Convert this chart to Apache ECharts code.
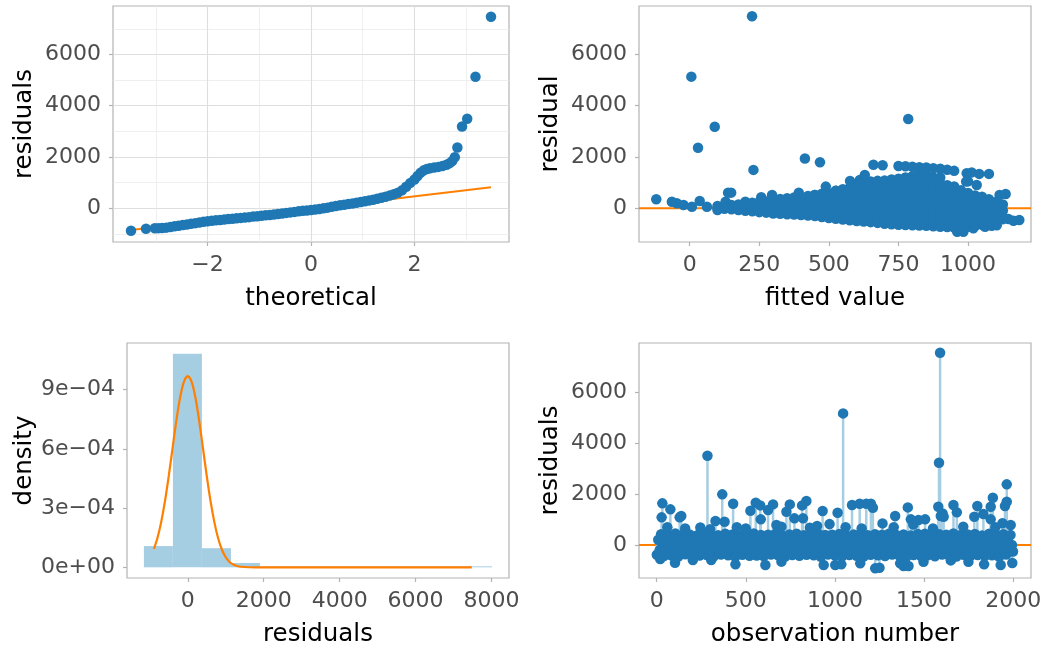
<!DOCTYPE html>
<html lang="en">
<head>
<meta charset="UTF-8">
<title>residual diagnostics</title>
<script src="https://cdn.jsdelivr.net/npm/echarts@6/dist/echarts.min.js"></script>
<style>
  html, body { margin: 0; padding: 0; background: #fff; }
  #chart { width: 1049px; height: 649px; }
</style>
</head>
<body>
<div id="chart"></div>
<script>
// ---- data ----
// panel 1: normal QQ (theoretical quantile, residual)
var qqPoints = [
  [-3.48,-876],[-3.19,-798],[-3.02,-782],[-2.95,-775],[-2.88,-770],[-2.80,-755],[-2.72,-730],
  [-2.64,-705],[-2.56,-680],[-2.48,-655],[-2.40,-630],[-2.32,-605],[-2.24,-580],[-2.16,-555],
  [-2.08,-530],[-2.00,-505],[-1.92,-490],[-1.84,-470],[-1.76,-455],[-1.68,-440],[-1.60,-420],
  [-1.52,-405],[-1.44,-390],[-1.36,-375],[-1.28,-360],[-1.20,-345],[-1.12,-325],[-1.04,-310],
  [-0.96,-295],[-0.88,-275],[-0.80,-260],[-0.72,-240],[-0.64,-220],[-0.56,-200],[-0.48,-180],
  [-0.40,-160],[-0.32,-140],[-0.24,-120],[-0.16,-100],[-0.08,-85],[0.00,-66],[0.08,-45],
  [0.16,-25],[0.24,0],[0.32,25],[0.40,60],[0.48,90],[0.56,115],[0.64,140],[0.72,165],
  [0.80,190],[0.88,215],[0.96,245],[1.04,270],[1.12,300],[1.20,335],[1.28,370],[1.36,410],
  [1.44,450],[1.52,495],[1.60,545],[1.68,610],[1.76,700],[1.84,840],[1.92,990],[2.00,1125],
  [2.06,1260],[2.12,1390],[2.18,1480],[2.24,1530],[2.30,1560],[2.38,1590],[2.46,1615],
  [2.54,1650],[2.62,1700],[2.68,1760],[2.73,1840],[2.78,1990],[2.83,2370],[2.92,3190],
  [3.02,3490],[3.18,5130],[3.48,7470]
];
var qqLine = [[-3.48,-850],[3.48,820]];

// panel 2: residual vs fitted value, columns of points [fitted, [residuals]]
var fitCols = [
  [100,[10,90]],[125,[-20,110]],[150,[-40,130]],[175,[-70,150]],
  [200,[-100,40,180]],[225,[-120,60,220]],[250,[-150,50,250]],[275,[-170,40,260]],
  [300,[-200,10,210,330]],[325,[-210,0,200,360]],[350,[-230,-10,200,390]],[375,[-245,-20,190,420]],
  [400,[-260,-40,180,420]],[425,[-280,-50,170,400,480]],[450,[-300,-70,160,380,520]],
  [475,[-340,-100,140,380,570]],[500,[-380,-140,100,340,580]],[525,[-410,-170,70,310,550,680]],
  [550,[-440,-200,40,280,520,740]],[575,[-470,-230,10,250,490,730,800]],
  [600,[-500,-260,-20,220,460,700,880]],[625,[-520,-280,-40,200,440,680,920]],
  [650,[-540,-300,-60,180,420,660,900,1040]],[675,[-570,-330,-90,150,390,630,870,1070]],
  [700,[-600,-360,-120,120,360,600,840,1080]],[725,[-620,-380,-140,100,340,580,820,1060,1120]],
  [750,[-640,-400,-160,80,320,560,800,1040,1150,1650]],
  [775,[-650,-410,-170,70,310,550,790,1030,1200,1640]],
  [800,[-660,-420,-180,60,300,540,780,1020,1250,1620]],
  [825,[-670,-430,-190,50,290,530,770,1010,1250,1480,1600]],
  [850,[-680,-440,-200,40,280,520,760,1000,1240,1300,1590]],
  [875,[-700,-460,-220,20,260,500,740,980,1200,1560]],
  [900,[-720,-480,-240,0,240,480,720,960,1200,1540]],
  [925,[-730,-490,-250,-10,230,470,710,900,1500]],
  [950,[-750,-510,-270,-30,210,450,690,850,1460]],
  [975,[-760,-520,-280,-40,200,440,700]],
  [1000,[-720,-480,-240,0,240,480,600,1050]],
  [1025,[-680,-440,-200,40,280,500]],[1050,[-640,-400,-160,80,320,450]],
  [1075,[-560,-320,-80,160,350]],[1100,[-480,-240,0,250]],[1125,[-330,-90,150]]
];
var fitOutliers = [
  [-120,352],[-64,258],[-46,195],[-22,129],[8,63],[36,285],[62,63],[100,-66],[129,258],
  [6,5134],[224,7490],[90,3179],[30,2358],[229,1497],[138,610],[149,610],[200,258],
  [257,430],[296,520],[392,610],[449,520],[489,845],[525,688],[414,1940],[468,1798],
  [576,1067],[611,1107],[629,1302],[660,1700],[693,1680],[785,3480],
  [995,1368],[1013,1400],[1040,1342],[1075,1342],[993,1040],[1031,911],[1113,520],[1135,559],
  [961,-915],[983,-915],[1019,-782],[1061,-719],[1085,-680],[1103,-665],[1124,-430],
  [1145,-418],[1163,-485],[1184,-457]
];
var fitZero = [[-182,0],[1226,0]];

// panel 3: histogram bins [from, to, density] and normal density curve
var histBins = [
  [-1155,-391,1.076e-4],[-391,373,1.082e-3],[373,1137,9.7e-5],[1137,1901,2.2e-5],
  [1901,2665,7e-7],[2665,3429,7e-7],[3429,4193,7e-7],[4193,4957,7e-7],
  [4957,5721,7e-7],[5721,6485,7e-7],[6485,7249,7e-7],[7249,8013,7e-7]
];
var densCurve = [
  [-890,9.4e-5],[-800,1.47e-4],[-700,2.29e-4],[-600,3.35e-4],[-500,4.63e-4],[-400,6.04e-4],
  [-300,7.43e-4],[-200,8.61e-4],[-100,9.40e-4],[0,9.68e-4],[100,9.40e-4],[200,8.61e-4],
  [300,7.43e-4],[400,6.04e-4],[500,4.63e-4],[600,3.35e-4],[700,2.29e-4],[800,1.47e-4],
  [900,8.9e-5],[1000,5.1e-5],[1100,2.7e-5],[1200,1.4e-5],[1300,6.7e-6],[1400,3e-6],
  [1600,5e-7],[1800,0],[3000,0],[5000,0],[7480,0]
];
var densTicks = [0, 0.0003, 0.0006, 0.0009];
var densLabels = ['0e+00', '3e\u221204', '6e\u221204', '9e\u221204'];

// panel 4: residual by observation number
var obsBand = [
  [1,-380],[9,210],[17,-190],[25,420],[33,30],[41,-430],[49,180],[57,-230],[65,380],[73,-20],
  [81,-400],[89,230],[97,-170],[105,450],[113,10],[121,-450],[129,190],[137,-210],[145,390],[153,-40],
  [161,-360],[169,200],[177,-240],[185,410],[193,50],[201,-420],[209,170],[217,-180],[225,370],[233,-10],
  [241,-410],[249,240],[257,-200],[265,430],[273,20],[281,-390],[289,160],[297,-220],[305,400],[313,-50],
  [321,-440],[329,210],[337,-160],[345,380],[353,40],[361,-370],[369,190],[377,-250],[385,440],[393,0],
  [401,-400],[409,220],[417,-190],[425,410],[433,-30],[441,-460],[449,180],[457,-200],[465,360],[473,30],
  [481,-380],[489,250],[497,-230],[505,420],[513,10],[521,-420],[529,170],[537,-170],[545,450],[553,-20],
  [561,-410],[569,200],[577,-210],[585,390],[593,50],[601,-440],[609,230],[617,-190],[625,400],[633,-40],
  [641,-370],[649,190],[657,-240],[665,430],[673,20],[681,-400],[689,210],[697,-180],[705,370],[713,0],
  [721,-450],[729,180],[737,-200],[745,410],[753,-10],[761,-390],[769,240],[777,-220],[785,440],[793,40],
  [801,-420],[809,200],[817,-170],[825,380],[833,10],[841,-380],[849,170],[857,-230],[865,420],[873,-30],
  [881,-400],[889,220],[897,-190],[905,450],[913,30],[921,-460],[929,190],[937,-200],[945,390],[953,-50],
  [961,-370],[969,230],[977,-240],[985,400],[993,20],[1001,-410],[1009,180],[1017,-180],[1025,430],[1033,0],
  [1041,-440],[1049,210],[1057,-210],[1065,370],[1073,40],[1081,-390],[1089,160],[1097,-190],[1105,410],[1113,-20],
  [1121,-420],[1129,240],[1137,-220],[1145,440],[1153,10],[1161,-450],[1169,200],[1177,-170],[1185,380],[1193,30],
  [1201,-380],[1209,190],[1217,-230],[1225,420],[1233,-40],[1241,-400],[1249,220],[1257,-200],[1265,400],[1273,20],
  [1281,-430],[1289,170],[1297,-190],[1305,450],[1313,0],[1321,-370],[1329,210],[1337,-240],[1345,390],[1353,50],
  [1361,-410],[1369,230],[1377,-180],[1385,410],[1393,-30],[1401,-460],[1409,180],[1417,-210],[1425,370],[1433,10],
  [1441,-390],[1449,200],[1457,-200],[1465,430],[1473,30],[1481,-420],[1489,240],[1497,-220],[1505,440],[1513,-10],
  [1521,-400],[1529,190],[1537,-170],[1545,380],[1553,40],[1561,-440],[1569,210],[1577,-230],[1585,420],[1593,-50],
  [1601,-370],[1609,170],[1617,-190],[1625,400],[1633,20],[1641,-410],[1649,220],[1657,-200],[1665,450],[1673,0],
  [1681,-450],[1689,200],[1697,-240],[1705,390],[1713,-20],[1721,-380],[1729,230],[1737,-180],[1745,410],[1753,30],
  [1761,-420],[1769,180],[1777,-210],[1785,430],[1793,10],[1801,-390],[1809,240],[1817,-190],[1825,370],[1833,-40],
  [1841,-430],[1849,210],[1857,-220],[1865,440],[1873,50],[1881,-400],[1889,190],[1897,-170],[1905,400],[1913,-30],
  [1921,-460],[1929,220],[1937,-200],[1945,420],[1953,20],[1961,-370],[1969,170],[1977,-230],[1985,390],[1993,0],
  [1999,-250]
];
var obsHigh = [
  [32,1632],[28,1084],[77,1397],[129,1084],[138,1135],[285,3496],[368,1984],[330,939],
  [429,1617],[381,912],[526,1343],[556,1657],[581,1553],[584,1006],[625,1370],[653,1592],
  [672,783],[728,1303],[747,1592],[773,1045],[816,1553],[840,1722],[821,1045],[931,1331],
  [1015,1265],[1046,5154],[1096,1566],[1139,1617],[1176,1617],[1202,1617],[1213,1461],
  [1267,848],[1338,1135],[1409,1474],[1426,1006],[1469,978],[1506,1006],[1590,7527],
  [1584,3221],[1580,1499],[1594,1135],[1604,1240],[1610,1108],[1665,1566],[1684,1280],
  [1782,1109],[1799,1526],[1833,1213],[1874,1499],[1886,1851],[1874,1006],[1964,2376],
  [1964,1695],[1954,1526],[1986,783],
  [60,700],[160,650],[245,690],[300,620],[450,700],[500,650],[700,720],[860,680],
  [900,750],[970,820],[1060,700],[1150,650],[1330,700],[1440,800],[1550,650],[1720,720],
  [1900,700],[1940,850]
];
var obsLow = [
  [20,-550],[103,-692],[203,-587],[306,-587],[442,-756],[610,-783],[700,-650],[937,-783],
  [1002,-783],[1036,-756],[1142,-716],[1226,-912],[1250,-888],[1366,-716],[1385,-822],
  [1413,-822],[1497,-653],[1650,-600],[1749,-653],[1837,-756],[1930,-783],[1995,-700]
];
var obsZero = [[-99,0],[2100,0]];

// tick values
var resTicks = [0, 2000, 4000, 6000];
var resMinor = [-1000, 1000, 3000, 5000, 7000];
var qqTicks = [-2, 0, 2];
var qqMinor = [-3, -1, 1, 3];
var fitTicks = [0, 250, 500, 750, 1000];
var histTicks = [0, 2000, 4000, 6000, 8000];
var obsTicks = [0, 500, 1000, 1500, 2000];

// ---- build ----
var fitPoints = [];
fitCols.forEach(function (c) {
  c[1].forEach(function (r) { fitPoints.push([c[0], r]); });
});
fitPoints = fitPoints.concat(fitOutliers);
var obsPoints = obsBand.concat(obsHigh, obsLow);

var FONT = "'DejaVu Sans', sans-serif";
var BLUE = '#1f78b4', LIGHT = '#a6cee3', ORANGE = '#ff7f00';
var TICK_FS = 22, TITLE_FS = 24.5, DOT = 10.5;

function minus(v) { return String(v).replace('-', '\u2212'); }

function valAxis(grid, min, max, ticks, name, gap, fmt) {
  return {
    type: 'value', gridIndex: grid, min: min, max: max,
    name: name, nameLocation: 'middle', nameGap: gap,
    nameTextStyle: { color: '#000', fontSize: TITLE_FS, fontFamily: FONT },
    axisLine: { show: false, onZero: false },
    axisTick: { show: true, length: 4, customValues: ticks,
      lineStyle: { color: '#b3b3b3', width: 1.2 } },
    axisLabel: { customValues: ticks, color: '#4d4d4d', fontSize: TICK_FS,
      fontFamily: FONT, margin: 12, formatter: fmt || minus },
    splitLine: { show: false }
  };
}

function minorAxis(grid, min, max, vals) {
  return {
    type: 'value', gridIndex: grid, min: min, max: max,
    axisLine: { show: false, onZero: false }, axisLabel: { show: false },
    axisTick: { show: false, customValues: vals },
    splitLine: { show: true, lineStyle: { color: '#ebebeb', width: 0.8 } }
  };
}

function densFmt(v) {
  for (var i = 0; i < densTicks.length; i++) {
    if (Math.abs(densTicks[i] - v) < 1e-9) return densLabels[i];
  }
  return '';
}

function stemItem(params, api) {
  var p0 = api.coord([api.value(0), 0]);
  var p1 = api.coord([api.value(0), api.value(1)]);
  return { type: 'line', shape: { x1: p0[0], y1: p0[1], x2: p1[0], y2: p1[1] },
    style: { stroke: LIGHT, lineWidth: 2.5 } };
}

function binItem(params, api) {
  var p0 = api.coord([api.value(0), 0]);
  var p1 = api.coord([api.value(1), api.value(2)]);
  var h = Math.max(p0[1] - p1[1], 1);
  return { type: 'rect', shape: { x: p0[0], y: p0[1] - h, width: p1[0] - p0[0], height: h },
    style: { fill: LIGHT } };
}

function grid(l, t, w, h) {
  return { left: l, top: t, width: w, height: h, show: true,
    borderColor: '#b3b3b3', borderWidth: 1.2, backgroundColor: '#fff' };
}

var xq = valAxis(0, -3.828, 3.828, qqTicks, 'theoretical', 44);
xq.splitLine = { show: true, lineStyle: { color: '#dedede', width: 1.1 } };
var yq = valAxis(0, -1315, 7890, resTicks, 'residuals', 76);
yq.splitLine = { show: true, lineStyle: { color: '#dedede', width: 1.1 } };

var option = {
  animation: false,
  textStyle: { fontFamily: FONT },
  grid: [grid(113, 6, 396, 236), grid(639, 6, 392, 236),
         grid(127, 343, 382, 235), grid(639, 343, 392, 235)],
  xAxis: [
    xq,
    valAxis(1, -182, 1226, fitTicks, 'fitted value', 44),
    valAxis(2, -1600, 8460, histTicks, 'residuals', 44),
    valAxis(3, -99, 2100, obsTicks, 'observation number', 44),
    minorAxis(0, -3.828, 3.828, qqMinor)
  ],
  yAxis: [
    yq,
    valAxis(1, -1315, 7890, resTicks, 'residual', 76),
    valAxis(2, -5.4e-5, 1.136e-3, densTicks, 'density', 88, densFmt),
    valAxis(3, -1290, 7910, resTicks, 'residuals', 76),
    minorAxis(0, -1315, 7890, resMinor)
  ],
  series: [
    { type: 'line', xAxisIndex: 0, yAxisIndex: 0, data: qqLine, symbol: 'none', z: 2,
      lineStyle: { color: ORANGE, width: 2 } },
    { type: 'scatter', xAxisIndex: 0, yAxisIndex: 0, data: qqPoints, symbolSize: DOT, z: 3,
      itemStyle: { color: BLUE, opacity: 1 } },

    { type: 'line', xAxisIndex: 1, yAxisIndex: 1, data: fitZero, symbol: 'none', z: 2,
      lineStyle: { color: ORANGE, width: 2 } },
    { type: 'scatter', xAxisIndex: 1, yAxisIndex: 1, data: fitPoints, symbolSize: DOT, z: 3,
      itemStyle: { color: BLUE, opacity: 1 } },

    { type: 'custom', xAxisIndex: 2, yAxisIndex: 2, data: histBins, renderItem: binItem,
      encode: { x: [0, 1], y: 2 }, z: 2 },
    { type: 'line', xAxisIndex: 2, yAxisIndex: 2, data: densCurve, symbol: 'none', z: 3,
      smooth: 0.3, lineStyle: { color: ORANGE, width: 2.2 } },

    { type: 'line', xAxisIndex: 3, yAxisIndex: 3, data: obsZero, symbol: 'none', z: 2,
      lineStyle: { color: ORANGE, width: 2 } },
    { type: 'custom', xAxisIndex: 3, yAxisIndex: 3, data: obsPoints, renderItem: stemItem,
      encode: { x: 0, y: 1 }, z: 3 },
    { type: 'scatter', xAxisIndex: 3, yAxisIndex: 3, data: obsPoints, symbolSize: DOT, z: 4,
      itemStyle: { color: BLUE, opacity: 1 } }
  ]
};

var chart = echarts.init(document.getElementById('chart'), null, { renderer: 'canvas' });
chart.setOption(option);
</script>
</body>
</html>
